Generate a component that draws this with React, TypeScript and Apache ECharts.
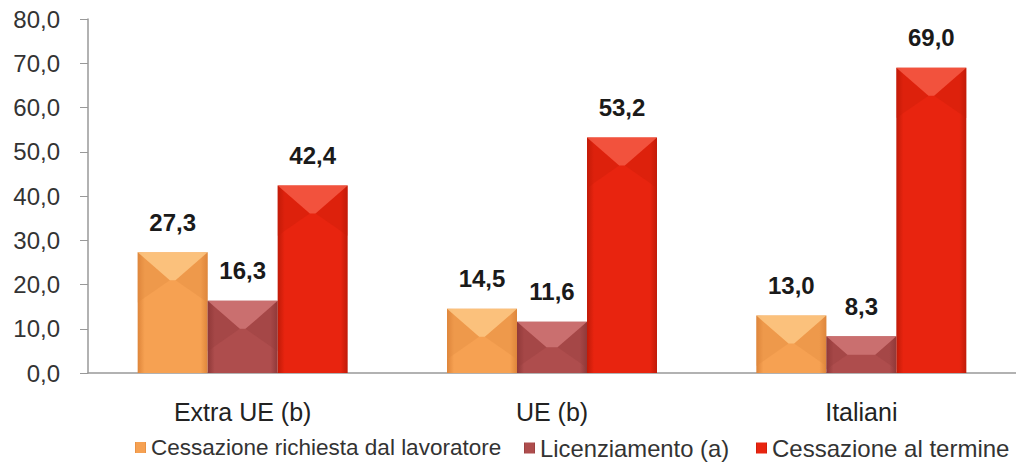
import React, { useEffect, useRef } from "react";
import * as echarts from "echarts";

const categories = ["Extra UE (b)", "UE (b)", "Italiani"];
const seriesNames = [
  "Cessazione richiesta dal lavoratore",
  "Licenziamento (a)",
  "Cessazione al termine",
];
const richiesta = [27.3, 14.5, 13.0];
const licenziamento = [16.3, 11.6, 8.3];
const termine = [42.4, 53.2, 69.0];
const yTicks = [0, 10, 20, 30, 40, 50, 60, 70, 80];

const BAR_W = 70;
const FONT = "'Liberation Sans', Arial, sans-serif";

const palettes = [
  { main: "#F6A152", edge: "#DE853A", top: "#FBC784", side: "#E08A40" },
  { main: "#AE4D4D", edge: "#8E3838", top: "#CF7676", side: "#943C3C" },
  { main: "#E8240F", edge: "#C01A08", top: "#F35A45", side: "#C81C0A" },
];

const legendLeft = [135, 524, 756];
const legendFont = [22.5, 23.8, 24];

const fmt = (v: number) => v.toFixed(1).replace(".", ",");

export default function App() {
  const ref = useRef<HTMLDivElement>(null);
  useEffect(() => {
    document.body.style.margin = "0";
    if (!ref.current) return;
    const chart = echarts.init(ref.current, undefined, { renderer: "svg" });
    const datasets = [richiesta, licenziamento, termine];

    const barSeries = datasets.map((d, i) => ({
      name: seriesNames[i],
      type: "bar",
      data: d,
      barWidth: BAR_W,
      barGap: "0%",
      itemStyle: {
        color: new echarts.graphic.LinearGradient(1, 0, 0, 0, [
          { offset: 0, color: palettes[i].edge },
          { offset: 0.1, color: palettes[i].main },
          { offset: 0.9, color: palettes[i].main },
          { offset: 1, color: palettes[i].edge },
        ]),
      },
      label: {
        show: true,
        position: "top",
        distance: 18,
        formatter: (p: any) => fmt(p.value),
        fontFamily: FONT,
        fontWeight: "bold",
        fontSize: 24,
        color: "#1a1a1a",
      },
    }));

    const bevelSeries = datasets.map((d, i) => ({
      name: seriesNames[i] + "_bevel",
      type: "custom",
      silent: true,
      z: 3,
      data: d.map((v, k) => [k, v]),
      renderItem: (params: any, api: any) => {
        const cat = api.value(0);
        const val = api.value(1);
        const top = api.coord([cat, val]);
        const base = api.coord([cat, 0]);
        const cx = top[0] + (i - 1) * BAR_W;
        const x0 = cx - BAR_W / 2;
        const x1 = cx + BAR_W / 2;
        const y0 = top[1];
        const h = base[1] - y0;
        const dep = Math.min(BAR_W / 2 - 4, h / 2, 28);
        const inset = Math.min(BAR_W / 2, dep * 1.15);
        return {
          type: "group",
          children: [
            {
              type: "polygon",
              shape: {
                points: [
                  [x0, y0],
                  [x0 + inset, y0 + dep],
                  [x0, y0 + dep * 1.8],
                ],
              },
              style: { fill: palettes[i].side, opacity: 0.35 },
            },
            {
              type: "polygon",
              shape: {
                points: [
                  [x1, y0],
                  [x1 - inset, y0 + dep],
                  [x1, y0 + dep * 1.8],
                ],
              },
              style: { fill: palettes[i].side, opacity: 0.35 },
            },
            {
              type: "polygon",
              shape: {
                points: [
                  [x0, y0],
                  [x1, y0],
                  [x1 - inset, y0 + dep],
                  [x0 + inset, y0 + dep],
                ],
              },
              style: { fill: palettes[i].top, opacity: 0.85 },
            },
          ],
        };
      },
    }));

    const legends = seriesNames.map((n, i) => ({
      data: [n],
      left: legendLeft[i],
      top: 436,
      itemWidth: 11,
      itemHeight: 11,
      icon: "rect",
      padding: 0,
      textStyle: {
        fontFamily: FONT,
        fontSize: legendFont[i],
        color: "#333",
        padding: [0, 0, 0, 0],
      },
    }));

    chart.setOption({
      animation: false,
      backgroundColor: "#ffffff",
      grid: { left: 88, top: 19, width: 936, height: 354, containLabel: false },
      legend: legends,
      xAxis: {
        type: "category",
        data: categories,
        axisLine: { show: true, lineStyle: { color: "#999", width: 1.5 } },
        axisTick: { show: false },
        axisLabel: {
          fontFamily: FONT,
          fontSize: 25,
          color: "#222",
          margin: 26,
        },
      },
      yAxis: {
        type: "value",
        min: 0,
        max: 80,
        interval: 10,
        axisLine: { show: true, lineStyle: { color: "#999", width: 1.5 } },
        axisTick: { show: true, length: 8, lineStyle: { color: "#999" } },
        splitLine: { show: false },
        axisLabel: {
          fontFamily: FONT,
          fontSize: 24,
          color: "#333",
          margin: 28,
          formatter: (v: number) => (yTicks.includes(v) ? fmt(v) : ""),
        },
      },
      series: [...barSeries, ...bevelSeries],
    });
    return () => chart.dispose();
  }, []);
  return <div ref={ref} style={{ width: 1016, height: 468 }} />;
}
